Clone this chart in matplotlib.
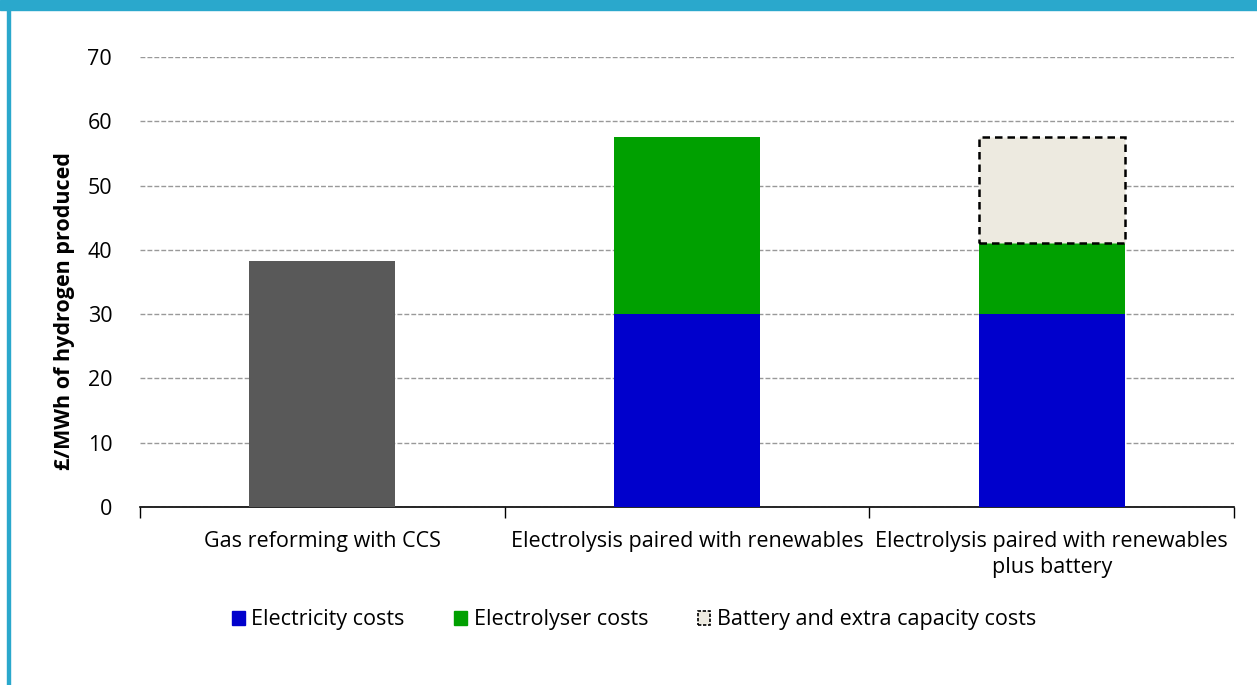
import numpy as np
import matplotlib.pyplot as plt
from matplotlib.patches import Rectangle

plt.rcParams['font.family'] = ['Open Sans', 'DejaVu Sans']

categories = ["Gas reforming with CCS",
              "Electrolysis paired with renewables",
              "Electrolysis paired with renewables\nplus battery"]
gas_costs = [38.2, 0, 0]
electricity_costs = [0, 30.0, 30.0]
electrolyser_costs = [0, 27.5, 11.0]
battery_costs = [0, 0, 16.5]
y_ticks = [0, 10, 20, 30, 40, 50, 60, 70]

fig = plt.figure(figsize=(12.57, 6.85), dpi=100)
ax = fig.add_axes([140 / 1257, 1 - 507 / 685, 1094 / 1257, 450 / 685])

x = np.arange(len(categories))
w = 0.4
ax.bar(x, gas_costs, w, color='#595959', zorder=3)
ax.bar(x, electricity_costs, w, color='#0000cc', zorder=3)
ax.bar(x, electrolyser_costs, w, bottom=electricity_costs, color='#00a000', zorder=3)
bottoms = np.array(electricity_costs) + np.array(electrolyser_costs)
has_batt = np.array(battery_costs) > 0
ax.bar(x[has_batt], np.array(battery_costs)[has_batt], w, bottom=bottoms[has_batt],
       color='#edeae0', edgecolor='black', linestyle=(0, (3, 2)), linewidth=1.8, zorder=4)

ax.set_xlim(-0.5, 2.5)
ax.set_ylim(0, 70)
ax.set_yticks(y_ticks)
ax.yaxis.grid(True, linestyle=(0, (3.5, 1.5)), color='#999999', linewidth=1.0, zorder=0)
ax.tick_params(axis='y', length=0, labelsize=15.5, pad=20)
ax.set_xticks(x)
ax.set_xticklabels(categories, fontsize=15.5, linespacing=1.35)
ax.tick_params(axis='x', which='major', length=0, pad=17)
ax.set_xticks([-0.5, 0.5, 1.5, 2.5], minor=True)
ax.tick_params(axis='x', which='minor', length=8, width=1, direction='out')
for s in ['top', 'right', 'left']:
    ax.spines[s].set_visible(False)
ax.spines['bottom'].set_linewidth(1.2)
ax.set_ylabel('£/MWh of hydrogen produced', fontsize=15.5, fontweight='bold')
ax.yaxis.set_label_coords(-0.0686, 0.436)
ax.yaxis.label.set_verticalalignment('center')

handles = [Rectangle((0, 0), 1, 1, color='#0000cc'),
           Rectangle((0, 0), 1, 1, color='#00a000'),
           Rectangle((0, 0), 1, 1, facecolor='#edeae0', edgecolor='black',
                     linestyle=(0, (2, 1)), linewidth=1.2)]
fig.legend(handles, ['Electricity costs', 'Electrolyser costs', 'Battery and extra capacity costs'],
           loc='center', bbox_to_anchor=(634 / 1257, 1 - 620 / 685), ncol=3, frameon=False,
           fontsize=15.5, handlelength=0.6, handleheight=0.6, handletextpad=0.3, columnspacing=2.3)

# page frame
fig.patches.append(Rectangle((0, 1 - 10 / 685), 1, 10 / 685, transform=fig.transFigure,
                             color='#2aa8cc', zorder=10))
fig.patches.append(Rectangle((7 / 1257, 0), 3 / 1257, 1, transform=fig.transFigure,
                             color='#2aa8cc', zorder=10))

fig.savefig('out.png', dpi=100)
